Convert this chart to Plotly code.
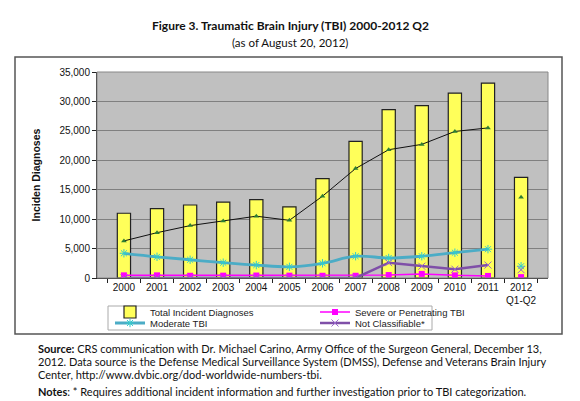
import plotly.graph_objects as go

years = ["2000", "2001", "2002", "2003", "2004", "2005", "2006", "2007",
         "2008", "2009", "2010", "2011", "2012<br>Q1-Q2"]
total = [11000, 11800, 12400, 12900, 13300, 12100, 16900, 23200,
         28600, 29300, 31400, 33100, 17100]
mild = [6300, 7700, 8900, 9700, 10500, 9800, 13900, 18600,
        21800, 22700, 24900, 25500, 13700]
moderate = [4200, 3600, 3100, 2600, 2200, 1900, 2500, 3700,
            3400, 3700, 4300, 4900, 2000]
severe = [450, 450, 380, 400, 420, 400, 380, 380,
          500, 700, 450, 350, 150]
not_class = [0, 0, 0, 0, 0, 0, 0, 0,
             2600, 2000, 1500, 2200, 1400]

FONT = "Liberation Sans, Arial, sans-serif"
TXT = "Lato, Open Sans, sans-serif"

# page body adds an 8px offset; work in target-window pixels
OFF = 8
W, H = 580 - OFF, 401 - OFF
PL, PR, PT, PB = 97, 548, 72, 278  # plot area in window pixels
L, T = PL - OFF, PT - OFF
R, B = W - (PR - OFF), H - (PB - OFF)
pw, ph = PR - PL, PB - PT

def px_x(x):
    return (x - PL) / pw

def px_y(y):
    return (PB - y) / ph

fig = go.Figure()

fig.add_trace(go.Bar(
    x=years, y=total, name="Total Incident Diagnoses", legend="legend",
    marker=dict(color="#FFFF5A", line=dict(color="#222222", width=1.2)),
    width=0.4,
))
fig.add_trace(go.Scatter(
    x=years[:-1], y=severe[:-1], name="Severe or Penetrating TBI", legend="legend",
    mode="lines+markers",
    line=dict(color="#FF00FF", width=1.5),
    marker=dict(symbol="square", size=6, color="#FF00FF"),
))
fig.add_trace(go.Scatter(
    x=years[:-1], y=moderate[:-1], name="Moderate TBI", legend="legend2",
    mode="lines+markers",
    line=dict(color="#4BACC6", width=2.8, shape="spline"),
    marker=dict(symbol="asterisk-open", size=7, color="#33CCCC",
                line=dict(color="#33CCCC", width=1)),
))
fig.add_trace(go.Scatter(
    x=years[:-1], y=not_class[:-1], name="Not Classifiable*", legend="legend2",
    mode="lines+markers",
    line=dict(color="#7F4FA8", width=2.5),
    marker=dict(symbol="x-thin-open", size=7, color="#9966CC",
                line=dict(color="#9966CC", width=1)),
))
fig.add_trace(go.Scatter(
    x=years[:-1], y=mild[:-1], name="Mild TBI", showlegend=False,
    mode="lines+markers",
    line=dict(color="#111111", width=1),
    marker=dict(symbol="triangle-up", size=5, color="#2E7D32"),
))
# 2012 partial-year points (markers only)
fig.add_trace(go.Scatter(
    x=years[-1:], y=mild[-1:], showlegend=False, mode="markers",
    marker=dict(symbol="triangle-up", size=5, color="#2E7D32")))
fig.add_trace(go.Scatter(
    x=years[-1:], y=moderate[-1:], showlegend=False, mode="markers",
    marker=dict(symbol="asterisk-open", size=7, color="#33CCCC",
                line=dict(color="#33CCCC", width=1))))
fig.add_trace(go.Scatter(
    x=years[-1:], y=not_class[-1:], showlegend=False, mode="markers",
    marker=dict(symbol="x-thin-open", size=7, color="#9966CC",
                line=dict(color="#9966CC", width=1))))
fig.add_trace(go.Scatter(
    x=years[-1:], y=severe[-1:], showlegend=False, mode="markers",
    marker=dict(symbol="square", size=6, color="#FF00FF")))

leg_common = dict(
    orientation="h", xanchor="left", yanchor="middle",
    entrywidth=160, entrywidthmode="pixels", traceorder="normal",
    bgcolor="rgba(0,0,0,0)", borderwidth=0,
    font=dict(family=FONT, size=9.5, color="#222222"),
    itemwidth=30,
)

fig.update_layout(
    width=W, height=H,
    margin=dict(l=L, r=R, t=T, b=B, autoexpand=False),
    paper_bgcolor="white",
    plot_bgcolor="#C0C0C0",
    font=dict(family=FONT, size=10, color="#111111"),
    showlegend=True,
    legend=dict(x=px_x(110), y=px_y(312), **leg_common),
    legend2=dict(x=px_x(110), y=px_y(323), **leg_common),
    bargap=0.6,
)
fig.update_xaxes(
    type="category", showline=True, linecolor="#222222", linewidth=1,
    ticks="outside", tickson="boundaries", ticklen=4, tickcolor="#222222",
    tickangle=0, automargin=False,
    tickfont=dict(family=FONT, size=10, color="#111111"),
    showgrid=False, mirror=False,
)
fig.update_yaxes(
    range=[0, 35000], dtick=5000, tickformat=",",
    showline=True, linecolor="#222222", linewidth=1,
    ticks="outside", ticklen=4, tickcolor="#222222",
    showgrid=True, gridcolor="#808080", gridwidth=1,
    zeroline=False, automargin=False,
    tickfont=dict(family=FONT, size=10, color="#111111"),
    title=dict(text="<b>Inciden Diagnoses</b>", font=dict(family=FONT, size=10.5, color="#111111"),
               standoff=16),
)

# outer frame around chart + legend
fig.add_shape(type="rect", xref="paper", yref="paper",
              x0=px_x(15), x1=px_x(562), y0=px_y(334), y1=px_y(57),
              line=dict(color="#555555", width=1.5), fillcolor="rgba(0,0,0,0)",
              layer="below")
# legend box
fig.add_shape(type="rect", xref="paper", yref="paper",
              x0=px_x(108), x1=px_x(432), y0=px_y(330), y1=px_y(306),
              line=dict(color="#AAAAAA", width=1), fillcolor="white",
              layer="below")

# plot-area border
fig.add_shape(type="rect", xref="paper", yref="paper", x0=0, x1=1, y0=0, y1=1,
              line=dict(color="#888888", width=1), fillcolor="rgba(0,0,0,0)")

annos = [
    dict(text="<b>Figure 3. Traumatic Brain Injury (TBI) 2000-2012 Q2</b>",
         x=px_x(290), y=px_y(25), size=12, xanchor="center"),
    dict(text="(as of August 20, 2012)", x=px_x(290), y=px_y(42), size=11.5,
         xanchor="center"),
    dict(text="<b>Source:</b> CRS communication with Dr. Michael Carino, Army Office of the Surgeon General, December 13,",
         x=px_x(36), y=px_y(348), size=11, xanchor="left"),
    dict(text="2012. Data source is the Defense Medical Surveillance System (DMSS), Defense and Veterans Brain Injury",
         x=px_x(36), y=px_y(361), size=11, xanchor="left"),
    dict(text="Center, http://www.dvbic.org/dod-worldwide-numbers-tbi.",
         x=px_x(36), y=px_y(374), size=11, xanchor="left"),
    dict(text="<b>Notes</b>: * Requires additional incident information and further investigation prior to TBI categorization.",
         x=px_x(36), y=px_y(391), size=11, xanchor="left"),
]
for a in annos:
    fig.add_annotation(text=a["text"], x=a["x"], y=a["y"], xref="paper", yref="paper",
                       xanchor=a["xanchor"], yanchor="middle", showarrow=False,
                       font=dict(family=TXT, size=a["size"], color="#111111"))

fig.write_html("out.html")
